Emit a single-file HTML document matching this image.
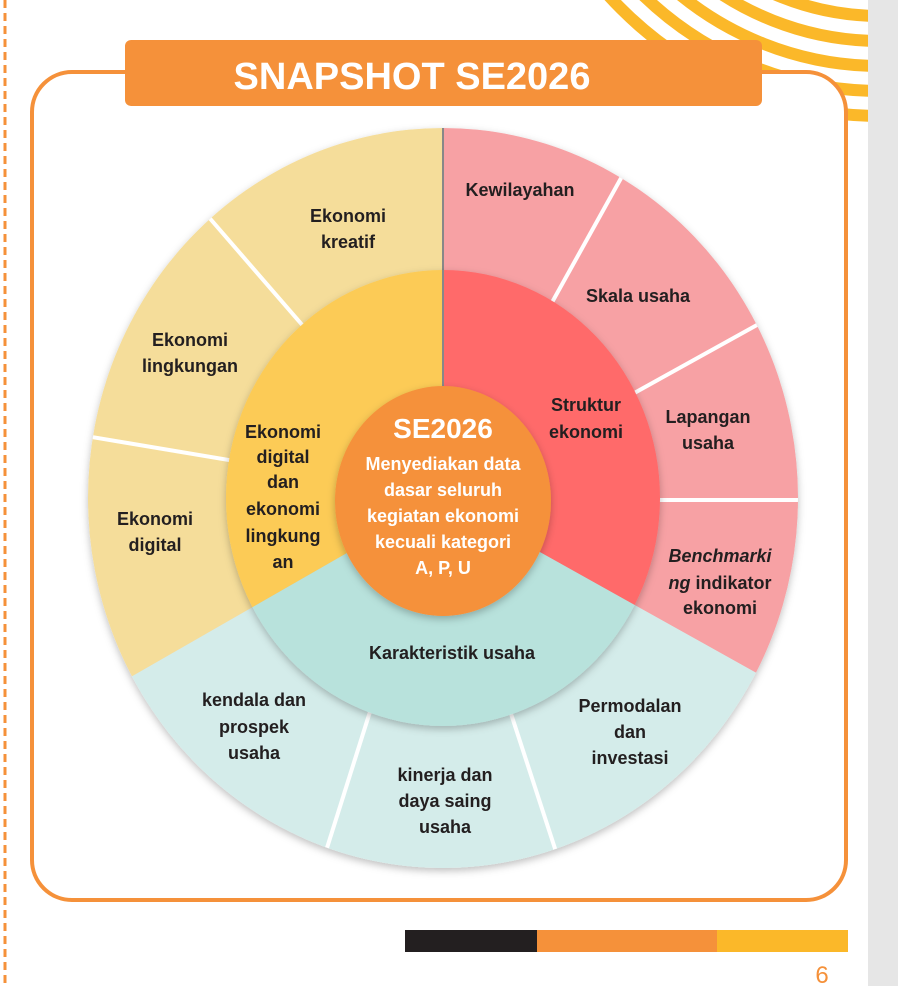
<!DOCTYPE html>
<html><head><meta charset="utf-8"><style>
html,body{margin:0;padding:0;background:#fff;}
svg{display:block;}
text{font-family:"Liberation Sans",sans-serif;font-weight:bold;}
</style></head><body>
<svg width="898" height="986" viewBox="0 0 898 986" xmlns="http://www.w3.org/2000/svg">
<defs>
<clipPath id="co"><ellipse cx="443" cy="498" rx="355" ry="370"/></clipPath>
<clipPath id="cm"><ellipse cx="443" cy="498" rx="217" ry="228"/></clipPath>
<clipPath id="cr"><rect x="0" y="0" width="868" height="986"/></clipPath>
<filter id="sh" x="-20%" y="-20%" width="140%" height="140%"><feDropShadow dx="0" dy="3" stdDeviation="4" flood-color="#000" flood-opacity="0.25"/></filter>
</defs>
<rect x="868" y="0" width="30" height="986" fill="#e6e6e6"/>
<line x1="5" y1="0" x2="5" y2="986" stroke="#f5913a" stroke-width="3" stroke-dasharray="8,5"/>
<g clip-path="url(#cr)" fill="none" stroke="#fbb829" stroke-width="12">
<circle cx="880" cy="-250" r="266"/>
<circle cx="880" cy="-250" r="291"/>
<circle cx="880" cy="-250" r="316"/>
<circle cx="880" cy="-250" r="341"/>
<circle cx="880" cy="-250" r="366"/>
</g>
<rect x="32" y="72" width="814" height="828" rx="40" fill="#fff" stroke="#f5913a" stroke-width="4"/>
<rect x="125" y="40" width="637" height="66" rx="6" fill="#f5913a"/>
<text x="412" y="89" font-size="38" fill="#fff" text-anchor="middle">SNAPSHOT SE2026</text>

<g filter="url(#sh)">
<g clip-path="url(#co)">
<polygon points="443,498 443,0 0,0 0,752" fill="#f5dd9a"/>
<polygon points="443,498 443,0 898,0 898,752" fill="#f7a1a4"/>
<polygon points="443,498 0,752 0,986 898,986 898,752" fill="#d4ecea"/>
<g stroke="#fff" stroke-width="4">
<line x1="200" y1="207" x2="330" y2="357"/>
<line x1="80" y1="435" x2="300" y2="472"/>
<line x1="630" y1="162" x2="520" y2="360"/>
<line x1="775" y1="315" x2="600" y2="412"/>
<line x1="800" y1="500" x2="600" y2="500"/>
<line x1="320" y1="870" x2="380" y2="680"/>
<line x1="562" y1="870" x2="500" y2="680"/>
</g>
<line x1="443" y1="100" x2="443" y2="498" stroke="#888" stroke-width="2"/>
</g>
</g>
<g filter="url(#sh)">
<g clip-path="url(#cm)">
<polygon points="443,498 443,0 0,0 0,752" fill="#fccb56"/>
<polygon points="443,498 443,0 898,0 898,752" fill="#ff6a6a"/>
<polygon points="443,498 0,752 0,986 898,986 898,752" fill="#b8e2dc"/>
<line x1="443" y1="250" x2="443" y2="498" stroke="#888" stroke-width="2"/>
</g>
</g>
<ellipse cx="443" cy="501" rx="108" ry="115" fill="#f5913a" filter="url(#sh)"/>

<g fill="#231f20" font-size="18" text-anchor="middle">
<text x="348" y="222">Ekonomi</text><text x="348" y="248">kreatif</text>
<text x="190" y="346">Ekonomi</text><text x="190" y="372">lingkungan</text>
<text x="155" y="525">Ekonomi</text><text x="155" y="551">digital</text>
<text x="283" y="438">Ekonomi</text><text x="283" y="463">digital</text><text x="283" y="488">dan</text><text x="283" y="515">ekonomi</text><text x="283" y="542">lingkung</text><text x="283" y="568">an</text>
<text x="520" y="196">Kewilayahan</text>
<text x="638" y="302">Skala usaha</text>
<text x="586" y="411">Struktur</text><text x="586" y="438">ekonomi</text>
<text x="708" y="423">Lapangan</text><text x="708" y="449">usaha</text>
<text x="720" y="562" font-style="italic">Benchmarki</text>
<text x="720" y="589"><tspan font-style="italic">ng</tspan> indikator</text>
<text x="720" y="614">ekonomi</text>
<text x="452" y="659">Karakteristik usaha</text>
<text x="254" y="706">kendala dan</text><text x="254" y="733">prospek</text><text x="254" y="759">usaha</text>
<text x="445" y="781">kinerja dan</text><text x="445" y="807">daya saing</text><text x="445" y="833">usaha</text>
<text x="630" y="712">Permodalan</text><text x="630" y="738">dan</text><text x="630" y="764">investasi</text>
</g>
<g fill="#fff" text-anchor="middle">
<text x="443" y="438" font-size="28">SE2026</text>
<g font-size="18">
<text x="443" y="470">Menyediakan data</text>
<text x="443" y="496">dasar seluruh</text>
<text x="443" y="522">kegiatan ekonomi</text>
<text x="443" y="548">kecuali kategori</text>
<text x="443" y="574">A, P, U</text>
</g>
</g>

<rect x="405" y="930" width="132" height="22" fill="#231f20"/>
<rect x="537" y="930" width="180" height="22" fill="#f5913a"/>
<rect x="717" y="930" width="131" height="22" fill="#fbb829"/>
<text x="822" y="983" font-size="24" style="font-weight:normal" fill="#f5913a" text-anchor="middle">6</text>
</svg>
</body></html>
